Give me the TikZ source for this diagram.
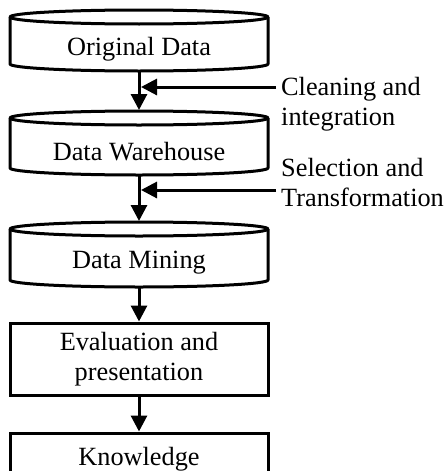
\documentclass[tikz,border=0pt]{standalone}
\usepackage{fontspec}
\setmainfont{Liberation Serif}
\usetikzlibrary{arrows.meta}
\begin{document}
\begin{tikzpicture}[x=1pt,y=-1pt,
  shapeline/.style={draw=black, line width=3pt, line join=round},
  txt/.style={font=\fontsize{26.3}{30}\selectfont, inner sep=0pt},
  boxnode/.style={draw=black, line width=3pt, minimum width=258pt, align=center,
    font=\fontsize{26.3}{30}\selectfont, inner sep=0pt},
  flow/.style={-{Triangle[length=16pt,width=16pt]}, line width=3pt}]
\useasboundingbox (0,0) rectangle (446,471);
% cylinder 1
\draw[shapeline] (10,17) -- (10,64) arc[start angle=180,end angle=360,x radius=129pt,y radius=7pt] -- (268,17);
\draw[shapeline] (139,17) ellipse[x radius=129pt,y radius=7pt];
\node[txt, anchor=base] (orig) at (139,55) {Original Data};
\coordinate (c1bot) at (139,71);
% cylinder 2
\draw[shapeline] (10,118) -- (10,168) arc[start angle=180,end angle=360,x radius=129pt,y radius=7pt] -- (268,118);
\draw[shapeline] (139,118) ellipse[x radius=129pt,y radius=7pt];
\node[txt, anchor=base] (dw) at (139,160) {Data Warehouse};
\coordinate (c2top) at (139,110);
\coordinate (c2bot) at (139,175);
% cylinder 3
\draw[shapeline] (10,229) -- (10,280) arc[start angle=180,end angle=360,x radius=129pt,y radius=7pt] -- (268,229);
\draw[shapeline] (139,229) ellipse[x radius=129pt,y radius=7pt];
\node[txt, anchor=base] (dm) at (139,268) {Data Mining};
\coordinate (c3top) at (139,221);
\coordinate (c3bot) at (139,287);
% boxes
\node[boxnode, minimum height=72pt] (eval) at (139,359) {Evaluation and\\presentation};
\node[boxnode, minimum height=52pt] (know) at (139,459) {Knowledge};
% side labels
\node[txt, anchor=base west] (cl1) at (281,95) {Cleaning and};
\node[txt, anchor=base west] (cl2) at (281,125) {integration};
\node[txt, anchor=base west] (se1) at (281,176.5) {Selection and};
\node[txt, anchor=base west] (se2) at (281,206.5) {Transformation};
\coordinate (s1a) at (276,87);
\coordinate (s1b) at (141,87);
\coordinate (s2a) at (276,190);
\coordinate (s2b) at (141,190);
% connectors
\draw[flow] (c1bot) -- (c2top);
\draw[flow] (c2bot) -- (c3top);
\draw[flow] (c3bot) -- (eval.north);
\draw[flow] (eval.south) -- (know.north);
\draw[flow] (s1a) -- (s1b);
\draw[flow] (s2a) -- (s2b);
\end{tikzpicture}
\end{document}
